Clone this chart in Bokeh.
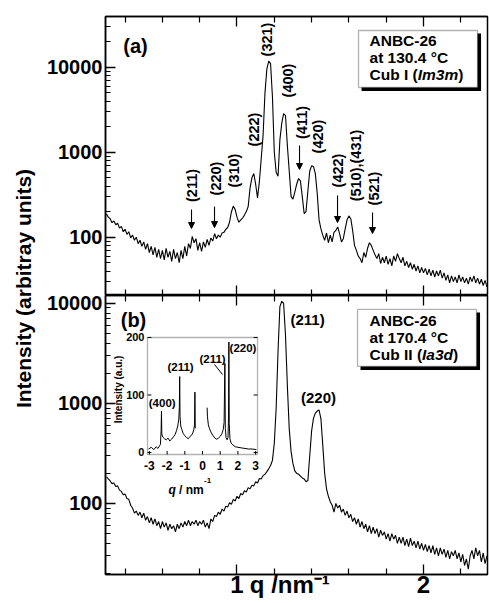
from math import pi
from bokeh.plotting import figure
from bokeh.layouts import row, column
from bokeh.models import (Range1d, FixedTicker, LinearAxis, Label, Arrow, NormalHead,
                          BoxAnnotation, LinearScale, PrintfTickFormatter)
from bokeh.embed import file_html
from bokeh.resources import INLINE

FONT = "Liberation Sans"
nan = float("nan")

# ---------------- data ----------------
q_scan = [
    0.30, 0.31, 0.32, 0.33, 0.34, 0.35, 0.36, 0.37, 0.38, 0.39,
    0.40, 0.41, 0.42, 0.43, 0.44, 0.45, 0.46, 0.47, 0.48, 0.49,
    0.50, 0.51, 0.52, 0.53, 0.54, 0.55, 0.56, 0.57, 0.58, 0.59,
    0.60, 0.61, 0.62, 0.63, 0.64, 0.65, 0.66, 0.67, 0.68, 0.69,
    0.70, 0.71, 0.72, 0.73, 0.74, 0.75, 0.76, 0.77, 0.78, 0.79,
    0.80, 0.81, 0.82, 0.83, 0.84, 0.85, 0.86, 0.87, 0.88, 0.89,
    0.90, 0.91, 0.92, 0.93, 0.94, 0.95, 0.96, 0.97, 0.98, 0.99,
    1.00, 1.01, 1.02, 1.03, 1.04, 1.05, 1.06, 1.07, 1.08, 1.09,
    1.10, 1.11, 1.12, 1.13, 1.14, 1.15, 1.16, 1.17, 1.18, 1.19,
    1.20, 1.21, 1.22, 1.23, 1.24, 1.25, 1.26, 1.27, 1.28, 1.29,
    1.30, 1.31, 1.32, 1.33, 1.34, 1.35, 1.36, 1.37, 1.38, 1.39,
    1.40, 1.41, 1.42, 1.43, 1.44, 1.45, 1.46, 1.47, 1.48, 1.49,
    1.50, 1.51, 1.52, 1.53, 1.54, 1.55, 1.56, 1.57, 1.58, 1.59,
    1.60, 1.61, 1.62, 1.63, 1.64, 1.65, 1.66, 1.67, 1.68, 1.69,
    1.70, 1.71, 1.72, 1.73, 1.74, 1.75, 1.76, 1.77, 1.78, 1.79,
    1.80, 1.81, 1.82, 1.83, 1.84, 1.85, 1.86, 1.87, 1.88, 1.89,
    1.90, 1.91, 1.92, 1.93, 1.94, 1.95, 1.96, 1.97, 1.98, 1.99,
    2.00, 2.01, 2.02, 2.03, 2.04, 2.05, 2.06, 2.07, 2.08, 2.09,
    2.10, 2.11, 2.12, 2.13, 2.14, 2.15, 2.16, 2.17, 2.18, 2.19,
    2.20, 2.21, 2.22, 2.23, 2.24, 2.25, 2.26, 2.27, 2.28, 2.29,
    2.30, 2.31, 2.32, 2.33, 2.34,
]

# (a) Cub I (Im3m) at 130.4 C
I_cub1 = [
    188, 172, 165, 148, 155, 140, 146, 128, 134, 116,
    124, 108, 116, 98, 106, 92, 100, 84, 92, 78,
    88, 72, 84, 66, 78, 62, 76, 58, 72, 56,
    70, 54, 74, 58, 68, 52, 72, 56, 66, 50,
    70, 56, 78, 60, 84, 74, 102, 86, 96, 70,
    86, 68, 88, 76, 94, 80, 98, 90, 110, 96,
    106, 100, 112, 114, 124, 130, 150, 198, 232, 212,
    172, 150, 160, 168, 182, 200, 230, 380, 500, 560,
    420, 290, 450, 850, 1600, 5000, 9500, 11800, 11000, 4500,
    1000, 580, 520, 1400, 2200, 2850, 2700, 1200, 600, 300,
    280, 340, 420, 490, 460, 300, 190, 200, 350, 600,
    690, 680, 560, 330, 160, 125, 105, 92, 112, 86,
    106, 88, 114, 120, 132, 110, 88, 96, 125, 160,
    178, 165, 120, 80, 70, 60, 56, 50, 66, 58,
    74, 86, 80, 70, 62, 56, 64, 49, 58, 50,
    60, 48, 56, 46, 60, 52, 64, 56, 50, 58,
    46, 52, 44, 50, 42, 48, 40, 46, 38, 44,
    38, 43, 36, 42, 35, 41, 34, 40, 35, 41,
    33, 38, 31, 36, 29, 35, 30, 34, 29, 36,
    30, 34, 29, 33, 28, 34, 30, 35, 29, 33,
    28, 32, 27, 31, 26,
]

# (b) Cub II (Ia3d) at 170.4 C
I_cub2 = [
    185, 176, 168, 158, 160, 148, 150, 136, 132, 122,
    124, 112, 110, 96, 90, 80, 84, 76, 82, 72,
    80, 68, 74, 64, 72, 62, 70, 60, 66, 56,
    66, 58, 64, 54, 62, 56, 60, 52, 62, 56,
    64, 58, 66, 60, 68, 60, 66, 62, 68, 60,
    66, 62, 68, 58, 64, 56, 70, 66, 76, 74,
    82, 78, 88, 84, 94, 92, 102, 98, 110, 106,
    118, 112, 126, 122, 134, 130, 144, 140, 152, 150,
    165, 160, 178, 176, 190, 196, 208, 222, 240, 270,
    400, 900, 3300, 9300, 10500, 10000, 4800, 1500, 560, 330,
    250, 212, 200, 196, 188, 180, 176, 165, 170, 300,
    530, 710, 800, 840, 860, 700, 380, 200, 140, 118,
    104, 96, 82, 100, 90, 96, 82, 88, 76, 84,
    72, 78, 66, 72, 62, 70, 58, 66, 56, 62,
    52, 60, 50, 58, 50, 56, 46, 54, 48, 52,
    44, 50, 42, 50, 44, 48, 40, 46, 40, 46,
    38, 44, 37, 45, 38, 42, 36, 42, 35, 40,
    34, 39, 33, 38, 32, 38, 31, 36, 30, 36,
    31, 35, 29, 34, 28, 33, 30, 34, 28, 32,
    26, 31, 24, 28, 22, 30, 34, 28, 36, 30,
    34, 26, 32, 25, 30,
]

# inset: full scan through the beam stop (linear intensity)
q_inset = [-3.05, -2.90, -2.75, -2.62, -2.52, -2.44, -2.38, -2.34, -2.32, -2.30,
           -2.25, -2.15, -2.05, -1.95, -1.85, -1.75, -1.65, -1.55, -1.47, -1.40,
           -1.34, -1.31, -1.29, -1.27, -1.23, -1.17, -1.09, -1.00, -0.90, -0.80,
           -0.70, -0.62, -0.55, -0.49, -0.45, -0.43, -0.41, nan,
           0.26, 0.28, 0.33, 0.40, 0.50, 0.60, 0.70, 0.80, 0.90, 1.00,
           1.10, 1.17, 1.22, 1.265, 1.29, 1.33, 1.39, 1.44, 1.47, 1.49,
           1.51, 1.55, 1.62, 1.72, 1.85, 2.00, 2.20, 2.40, 2.60, 2.80, 3.05]
I_inset = [6, 9, 5, 10, 7, 11, 14, 38, 72, 32,
           27, 24, 22, 25, 20, 23, 27, 31, 38, 46,
           58, 78, 132, 62, 46, 40, 33, 29, 26, 24,
           28, 30, 34, 40, 48, 105, 42, nan,
           78, 62, 48, 41, 34, 29, 25, 23, 25, 28,
           33, 40, 52, 155, 42, 26, 22, 26, 60, 192,
           50, 24, 16, 13, 10, 9, 8, 7, 6, 6, 5]

x_ticks = [1, 2]
x_tick_labels = ["1", "2"]
x_minor = [0.4, 0.6, 0.8, 1.2, 1.4, 1.6, 1.8, 2.2]
# trailing no-break spaces shift the centred title a little to the left, as in the figure
x_title = "q /nm\u207b\u00b9\u00a0\u00a0"
y_ticks = [100, 1000, 10000]
y_minor = [20, 30, 40, 50, 60, 70, 80, 90,
           200, 300, 400, 500, 600, 700, 800, 900,
           2000, 3000, 4000, 5000, 6000, 7000, 8000, 9000,
           20000, 30000]
inset_xticks = [-3, -2, -1, 0, 1, 2, 3]
inset_yticks = [0, 100, 200]
inset_xlim = [-3.11, 3.11]
inset_ylim = [-3.5, 200]

peaks_a = ["(211)", "(220)", "(310)", "(222)", "(321)", "(400)",
           "(411)", "(420)", "(422)", "(510),(431)", "(521)"]
arrowed_a = ["(211)", "(220)", "(411)", "(422)", "(521)"]
peaks_b = ["(211)", "(220)"]
peaks_inset = ["(400)", "(211)", "(211)", "(220)"]
box_a = ["ANBC-26", "at 130.4 °C", "Cub I (", "Im3m", ")"]
box_b = ["ANBC-26", "at 170.4 °C", "Cub II (", "Ia3d", ")"]


# -------- placement helpers (page pixel -> axis units) --------
def qx(px):
    return 0.295 + (px - 105) / 186.5


def ya(py):
    return 10 ** (4 - (py - 66.7) / 85)


def yb(py):
    return 10 ** (4 - (py - 303) / 100)


def ix(px):
    return (px - 202) / 17.69


def iy(py):
    return (452 - py) / 0.575


def lab(p, x, y, text, size, angle=0.0, align="center", baseline="middle",
        style="bold", xr="default", yr="default", x_offset=0, y_offset=0):
    p.add_layout(Label(x=x, y=y, text=text, angle=angle, text_align=align,
                       text_baseline=baseline, text_font=FONT,
                       text_font_size=f"{size}px", text_font_style=style,
                       text_color="black", x_range_name=xr, y_range_name=yr,
                       x_offset=x_offset, y_offset=y_offset))


def style_x(ax):
    ax.ticker = FixedTicker(ticks=x_ticks, minor_ticks=x_minor)
    ax.major_tick_in = 10
    ax.major_tick_out = 0
    ax.minor_tick_in = 6
    ax.minor_tick_out = 0
    ax.major_tick_line_width = 1.3
    ax.minor_tick_line_width = 1.2
    ax.major_label_text_font_size = "0px"
    ax.major_label_text_color = None
    ax.major_label_standoff = 0
    ax.axis_line_width = 1.5
    ax.axis_label = None


def style_y(ax):
    ax.ticker = FixedTicker(ticks=y_ticks, minor_ticks=y_minor)
    ax.formatter = PrintfTickFormatter(format="%d")
    ax.major_tick_in = 10
    ax.major_tick_out = 0
    ax.minor_tick_in = 5
    ax.minor_tick_out = 0
    ax.major_tick_line_width = 1.3
    ax.minor_tick_line_width = 1.1
    ax.major_label_text_font = FONT
    ax.major_label_text_font_size = "20px"
    ax.major_label_text_font_style = "bold"
    ax.major_label_text_color = "black"
    ax.major_label_standoff = 3
    ax.axis_line_width = 1.5


x_range = Range1d(0.295, 2.343)

# ---------------- panel (a) ----------------
pa = figure(width=449, height=295, x_range=x_range, y_range=Range1d(20.6, 39500),
            y_axis_type="log", output_backend="svg", toolbar_location=None,
            min_border_left=65, min_border_right=2, min_border_top=16,
            min_border_bottom=0)
# ---------------- panel (b) ----------------
pb = figure(width=449, height=308, x_range=x_range, y_range=Range1d(19.5, 12000),
            y_axis_type="log", output_backend="svg", toolbar_location=None,
            min_border_left=65, min_border_right=2, min_border_top=0,
            min_border_bottom=29)

for p in (pa, pb):
    p.add_layout(LinearAxis(), "above")
    for ax in p.xaxis:
        style_x(ax)
    for ax in p.yaxis:
        style_y(ax)
    p.grid.visible = False
    p.outline_line_color = "black"
    p.outline_line_width = 1.5
    p.background_fill_color = "white"
    p.border_fill_color = "white"

# real tick labels "1", "2" and the q title on the bottom axis of panel (b)
bx = pb.below[0]
bx.major_label_overrides = dict(zip(x_ticks, x_tick_labels))
bx.major_label_text_color = "black"
bx.major_label_text_font = FONT
bx.major_label_text_font_size = "24px"
bx.major_label_text_font_style = "bold"
bx.major_label_standoff = 1
bx.axis_label = x_title
bx.axis_label_text_font = FONT
bx.axis_label_text_font_size = "24px"
bx.axis_label_text_font_style = "bold"
bx.axis_label_text_color = "black"
bx.axis_label_standoff = -25

pa.line(q_scan, I_cub1, line_color="black", line_width=1.1)
pb.line(q_scan, I_cub2, line_color="black", line_width=1.1)

# panel (a) annotations
lab(pa, qx(135), ya(45), "(a)", 20)
pos_a = [(191, 185), (215, 178), (233, 170), (253, 129), (266, 39), (287, 80),
         (301, 122), (317, 136), (337, 170), (355, 165), (373, 188)]
for t, (px, py) in zip(peaks_a, pos_a):
    lab(pa, qx(px), ya(py), t, 14.5, angle=pi / 2)
arrows_a = [(191, 209, 228), (214, 206, 227), (299, 145, 169), (337, 195, 222),
            (372, 212, 233)]
for t, (px, y0, y1) in zip(arrowed_a, arrows_a):
    pa.add_layout(Arrow(end=NormalHead(size=6, fill_color="black", line_color="black"),
                        x_start=qx(px), y_start=ya(y0), x_end=qx(px), y_end=ya(y1),
                        line_color="black", line_width=1.1))

pa.add_layout(BoxAnnotation(left=qx(361), right=qx(480.5), top=ya(33), bottom=ya(90.5),
                            fill_color="black", fill_alpha=1, line_color=None))
pa.add_layout(BoxAnnotation(left=qx(358), right=qx(477), top=ya(30), bottom=ya(87),
                            fill_color="white", fill_alpha=1, line_color="black",
                            line_width=1.3))
lab(pa, qx(369), ya(40), box_a[0], 15.5, align="left")
lab(pa, qx(369), ya(57), box_a[1], 15.5, align="left")
lab(pa, qx(369), ya(74), box_a[2], 15.5, align="left")
lab(pa, qx(369), ya(74), box_a[3], 15.5, align="left", style="bold italic", x_offset=48.2)
lab(pa, qx(369), ya(74), box_a[4], 15.5, align="left", x_offset=88.7)

# panel (b) annotations
lab(pb, qx(133), yb(320), "(b)", 20)
lab(pb, qx(307), yb(319), peaks_b[0], 15)
lab(pb, qx(318), yb(397), peaks_b[1], 15)

pb.add_layout(BoxAnnotation(left=qx(360), right=qx(479.5), top=yb(312), bottom=yb(369.5),
                            fill_color="black", fill_alpha=1, line_color=None))
pb.add_layout(BoxAnnotation(left=qx(357), right=qx(476), top=yb(309), bottom=yb(366),
                            fill_color="white", fill_alpha=1, line_color="black",
                            line_width=1.3))
lab(pb, qx(369), yb(320), box_b[0], 15.5, align="left")
lab(pb, qx(369), yb(337), box_b[1], 15.5, align="left")
lab(pb, qx(369), yb(354), box_b[2], 15.5, align="left")
lab(pb, qx(369), yb(354), box_b[3], 15.5, align="left", style="bold italic", x_offset=52.5)
lab(pb, qx(369), yb(354), box_b[4], 15.5, align="left", x_offset=83.5)

# ---------------- inset inside panel (b) ----------------
pb.extra_x_ranges = {"ix": Range1d(-5.484, 16.11)}
pb.extra_y_ranges = {"iy": Range1d(-212.2, 273.0)}
pb.extra_x_scales = {"ix": LinearScale()}
pb.extra_y_scales = {"iy": LinearScale()}

pb.add_layout(BoxAnnotation(left=inset_xlim[0], right=inset_xlim[1],
                            bottom=inset_ylim[0], top=inset_ylim[1],
                            x_range_name="ix", y_range_name="iy",
                            fill_color="white", fill_alpha=1, line_color="black",
                            line_width=1.3, level="underlay"))
pb.line(q_inset, I_inset, x_range_name="ix", y_range_name="iy",
        line_color="black", line_width=1.0)
nx = len(inset_xticks)
ny = len(inset_yticks)
pb.segment(x0=inset_xticks, x1=inset_xticks, y0=[inset_ylim[0]] * nx,
           y1=[inset_ylim[0] + 6] * nx, x_range_name="ix", y_range_name="iy",
           line_color="black", line_width=1)
pb.segment(x0=[inset_xlim[0]] * ny, x1=[inset_xlim[0] + 0.22] * ny, y0=inset_yticks,
           y1=inset_yticks, x_range_name="ix", y_range_name="iy",
           line_color="black", line_width=1)
pb.segment(x0=[inset_xlim[1]] * ny, x1=[inset_xlim[1] - 0.22] * ny, y0=inset_yticks,
           y1=inset_yticks, x_range_name="ix", y_range_name="iy",
           line_color="black", line_width=1)
for t in inset_yticks:
    lab(pb, inset_xlim[0] - 0.17, t, str(t), 11, align="right", xr="ix", yr="iy")
for t in inset_xticks:
    lab(pb, t, iy(465), str(t), 12, xr="ix", yr="iy")
lab(pb, ix(168), iy(490), "q", 12, align="left", baseline="alphabetic",
    style="bold italic", xr="ix", yr="iy")
lab(pb, ix(178.6), iy(490), "/ nm", 12, align="left", baseline="alphabetic",
    xr="ix", yr="iy")
lab(pb, ix(203.5), iy(478), "-1", 8, align="left", baseline="top", xr="ix", yr="iy")
lab(pb, ix(118), iy(389), "Intensity (a.u.)", 10, angle=pi / 2, xr="ix", yr="iy")

pos_inset = [(161.7, 403), (180, 367), (212, 359), (242.5, 348)]
for t, (px, py) in zip(peaks_inset, pos_inset):
    lab(pb, ix(px), iy(py), t, 11.5, xr="ix", yr="iy")
pb.line([ix(214), ix(222)], [iy(364), iy(374)], x_range_name="ix", y_range_name="iy",
        line_color="black", line_width=1)

# ---------------- shared y-axis title ----------------
lf = figure(width=40, height=603, x_range=Range1d(0, 40), y_range=Range1d(0, 603),
            x_axis_location=None, y_axis_location=None, toolbar_location=None,
            output_backend="svg", min_border=0)
lf.outline_line_color = None
lf.grid.visible = False
lab(lf, 23, 603 - 288, "Intensity (arbitray units)", 21, angle=pi / 2)

layout = row(lf, column(pa, pb))
open("out.html", "w").write(file_html(layout, INLINE))
